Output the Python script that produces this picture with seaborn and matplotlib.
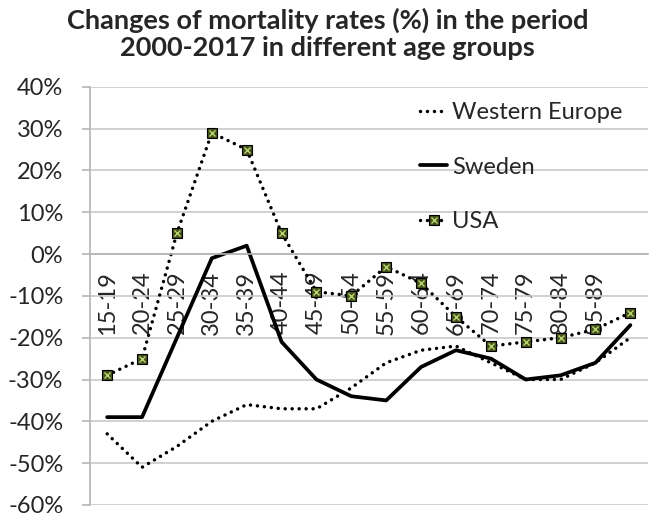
import numpy as np
import pandas as pd
import matplotlib
matplotlib.use("Agg")
import matplotlib.pyplot as plt
import seaborn as sns
from matplotlib.legend_handler import HandlerTuple

# Chart data
age_groups = ["15-19", "20-24", "25-29", "30-34", "35-39", "40-44", "45-49", "50-54",
              "55-59", "60-64", "65-69", "70-74", "75-79", "80-84", "85-89", ""]
western_europe = [-43, -51, -46, -40, -36, -37, -37, -32, -26, -23, -22, -26, -30, -30, -26, -20]
sweden = [-39, -39, -20, -1, 2, -21, -30, -34, -35, -27, -23, -25, -30, -29, -26, -17]
usa = [-29, -25, 5, 29, 25, 5, -9, -10, -3, -7, -15, -22, -21, -20, -18, -14]
y_ticks = list(range(-60, 50, 10))

sns.set_style("white")
plt.rcParams['font.family'] = ['Lato', 'DejaVu Sans']

fig = plt.figure(figsize=(6.55, 5.26), dpi=100)
ax = fig.add_axes([0.137, 0.040, 0.852, 0.795])

pos = np.arange(len(age_groups))
df = pd.DataFrame({'pos': pos, 'Western Europe': western_europe,
                   'Sweden': sweden, 'USA': usa})

dots = (0.01, 2.0)
sns.lineplot(data=df, x='pos', y='Western Europe', ax=ax, color='black', lw=2.5)
sns.lineplot(data=df, x='pos', y='Sweden', ax=ax, color='black', lw=2.7)
sns.lineplot(data=df, x='pos', y='USA', ax=ax, color='black', lw=2.5,
             marker='s', markersize=7, markerfacecolor='#45521f', markeredgecolor='black',
             markeredgewidth=0.8)
ax.plot(df['pos'], df['USA'], linestyle='none', marker='x', markersize=4.5,
        color='#b9d66e', markeredgewidth=1.0)

we_line, sw_line, us_line, us_x = ax.get_lines()[:4]
for ln in (we_line, us_line):
    ln.set_dashes(dots)
    ln.set_dash_capstyle('round')

# axes styling
ax.set_xlim(-0.5, len(age_groups) - 0.5)
ax.set_ylim(-60, 40)
ax.set_yticks(y_ticks)
ax.set_yticklabels([f"{v}%" for v in y_ticks], fontsize=17)
ax.yaxis.grid(True, color='#c9c9c9', lw=1.2)
ax.set_axisbelow(True)
ax.set_xlabel('')
ax.set_ylabel('')

for s in ('top', 'right'):
    ax.spines[s].set_visible(False)
ax.spines['left'].set_color('#b5b5b5')
ax.spines['left'].set_linewidth(1.2)
ax.spines['bottom'].set_position(('data', 0))
ax.spines['bottom'].set_color('#b5b5b5')
ax.spines['bottom'].set_linewidth(1.2)

ax.set_xticks(pos)
ax.set_xticklabels(age_groups, rotation=90, fontsize=17)
ax.set_xticks(np.arange(len(age_groups) + 1) - 0.5, minor=True)
ax.tick_params(axis='x', which='major', length=0, pad=12)
ax.tick_params(axis='x', which='minor', length=5, width=1.2, color='#b5b5b5', direction='out')
ax.tick_params(axis='y', which='major', length=6, width=1.2, color='#b5b5b5', left=True, pad=13)

fig.suptitle("Changes of mortality rates (%) in the period\n2000-2017 in different age groups",
             fontsize=19.5, fontweight='bold', y=0.985, linespacing=1.15)

ax.legend([we_line, sw_line, (us_line, us_x)], ['Western Europe', 'Sweden', 'USA'],
          handler_map={tuple: HandlerTuple(ndivide=1)},
          loc='upper left', bbox_to_anchor=(420 / 655, 1 - 102 / 526),
          bbox_transform=fig.transFigure, frameon=False, fontsize=17,
          borderpad=0, borderaxespad=0, handlelength=1.15, handletextpad=0.2,
          labelspacing=1.42)

fig.savefig('out.png', dpi=100)
